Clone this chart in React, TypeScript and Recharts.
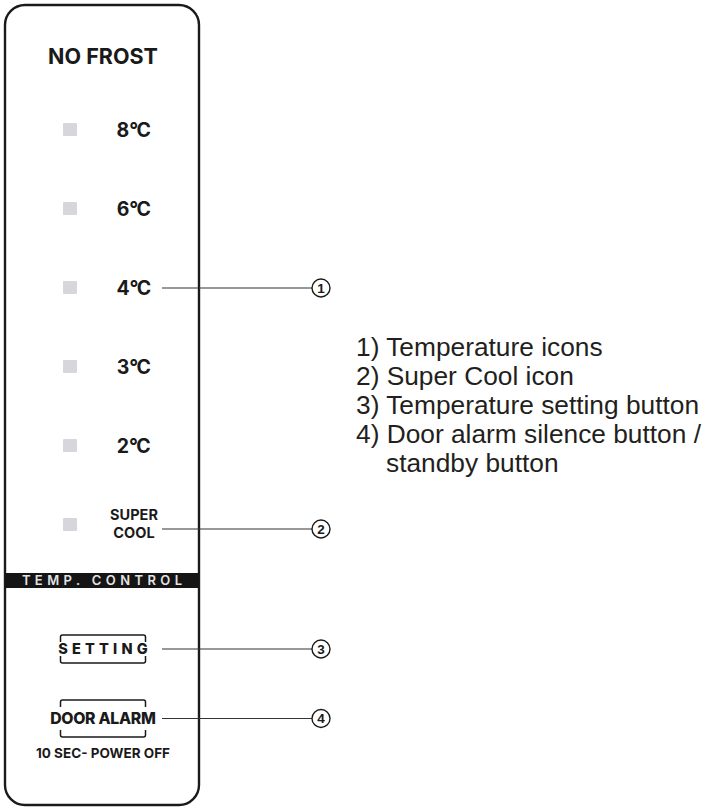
import { ScatterChart, Scatter, XAxis, YAxis, ReferenceArea, ReferenceLine } from 'recharts';

const W = 711;
const H = 807;

// panel texts, top to bottom
const panelTitle = 'NO FROST';
const tempLabels = ['8°C', '6°C', '4°C', '3°C', '2°C'];
const superCoolLines = ['SUPER', 'COOL'];
const bandLabel = 'TEMP. CONTROL';
const buttonLabels = ['SETTING', 'DOOR ALARM'];
const buttonNotes = ['', '10 SEC- POWER OFF'];

// callouts and the legend beside the panel
const calloutNumbers = ['1', '2', '3', '4'];
const legendLines = [
  '1) Temperature icons',
  '2) Super Cool icon',
  '3) Temperature setting button',
  '4) Door alarm silence button /',
  'standby button',
];

// layout (axis units = pixels)
const PANEL = { x1: 5, x2: 199, y1: 5, y2: 805 };
const BAND = { y1: 573, y2: 588 };
const TITLE_Y = 56;
const FIRST_ROW = 130;
const ROW_STEP = 79;
const ICON_X = 70;
const LABEL_X = 133;
const BUTTON_X = 103;
const BUTTON_Y = [649, 718.5];
const BUTTON_H = [28, 37];
const NOTE_Y = 753;
const LINE_START = 162;
const CALLOUT_X = 321;
const CALLOUT_R = 9;
const LEGEND_X = 356;
const LEGEND_FS = 26.3;
const LEGEND_INDENT = 30;
const LEGEND_Y0 = 347;
const LEGEND_STEP = 29;

const PANEL_FONT = 'Inter, "Noto Sans", sans-serif';
const LEGEND_FONT = '"Liberation Sans", Arial, sans-serif';
const INK = '#1a1a1a';

const rowY = (i: number) => FIRST_ROW + i * ROW_STEP;

const titleData = [{ x: BUTTON_X, y: TITLE_Y, label: panelTitle }];
const iconData = [...tempLabels, 'SUPER COOL'].map((label, i) => ({ x: ICON_X, y: rowY(i), label }));
const tempData = tempLabels.map((label, i) => ({ x: LABEL_X, y: rowY(i), label }));
const superCoolData = [{ x: LABEL_X + 1, y: rowY(5) - 1.5, lines: superCoolLines }];
const buttonData = buttonLabels.map((label, i) => ({ x: BUTTON_X, y: BUTTON_Y[i], h: BUTTON_H[i], label }));
const noteData = buttonNotes.filter(Boolean).map((label) => ({ x: BUTTON_X, y: NOTE_Y, label }));
const calloutY = [rowY(2), rowY(5) + 4, BUTTON_Y[0], BUTTON_Y[1]];
const calloutData = calloutNumbers.map((n, i) => ({ x: CALLOUT_X, y: calloutY[i], n }));
const legendData = legendLines.map((text, i) => ({
  x: i === legendLines.length - 1 ? LEGEND_X + LEGEND_INDENT : LEGEND_X,
  y: LEGEND_Y0 + i * LEGEND_STEP,
  text,
}));

function PanelShape(p: any) {
  return <rect x={p.x} y={p.y} width={p.width} height={p.height} rx={20} ry={20} fill="#fff" stroke={INK} strokeWidth={2.4} />;
}

function BandShape(p: any) {
  return (
    <g>
      <rect x={p.x} y={p.y} width={p.width} height={p.height} fill="#151515" />
      <text
        x={p.x + p.width / 2 + 2.2}
        y={p.y + p.height / 2}
        dy="0.36em"
        textAnchor="middle"
        fontFamily={PANEL_FONT}
        fontSize={13}
        fontWeight={600}
        letterSpacing={4.4}
        fill="#e4e4e4"
      >
        {bandLabel}
      </text>
    </g>
  );
}

function TitleShape(p: any) {
  return (
    <text x={p.cx} y={p.cy} dy="0.36em" textAnchor="middle" fontFamily={PANEL_FONT} fontWeight={700} fontSize={21.5} fill={INK}>
      {p.payload.label}
    </text>
  );
}

function IconShape(p: any) {
  return <rect x={p.cx - 7} y={p.cy - 7} width={14} height={13} rx={1} fill="#d6d6dc" />;
}

function TempShape(p: any) {
  const num = p.payload.label.slice(0, 1);
  const unit = p.payload.label.slice(1);
  return (
    <text x={p.cx} y={p.cy} dy="0.36em" textAnchor="middle" fontFamily={PANEL_FONT} fontWeight={700} fontSize={19.5} fill={INK}>
      {num}
      <tspan letterSpacing={-1.5}>{unit}</tspan>
    </text>
  );
}

function SuperCoolShape(p: any) {
  return (
    <g>
      {p.payload.lines.map((line: string, i: number) => (
        <text
          key={line}
          x={p.cx}
          y={p.cy + (i === 0 ? -9 : 9)}
          dy="0.36em"
          textAnchor="middle"
          fontFamily={PANEL_FONT}
          fontWeight={700}
          fontSize={14.5}
          fill={INK}
        >
          {line}
        </text>
      ))}
    </g>
  );
}

function ButtonShape(p: any) {
  const hw = 42.5;
  const hh = p.payload.h / 2;
  const l = p.cx - hw;
  const r = p.cx + hw;
  const t = p.cy - hh;
  const b = p.cy + hh;
  const leg = 7;
  const c = 2;
  const isSetting = p.payload.label === 'SETTING';
  const spacing = isSetting ? 4.2 : -0.3;
  return (
    <g>
      <path
        d={`M${l},${t + leg} L${l},${t + c} Q${l},${t} ${l + c},${t} L${r - c},${t} Q${r},${t} ${r},${t + c} L${r},${t + leg}`}
        fill="none"
        stroke={INK}
        strokeWidth={1.5}
      />
      <path
        d={`M${l},${b - leg} L${l},${b - c} Q${l},${b} ${l + c},${b} L${r - c},${b} Q${r},${b} ${r},${b - c} L${r},${b - leg}`}
        fill="none"
        stroke={INK}
        strokeWidth={1.5}
      />
      <text
        x={p.cx + spacing / 2}
        y={p.cy}
        dy="0.36em"
        textAnchor="middle"
        fontFamily={PANEL_FONT}
        fontWeight={800}
        fontSize={isSetting ? 14.5 : 15.8}
        letterSpacing={spacing}
        fill={INK}
      >
        {p.payload.label}
      </text>
    </g>
  );
}

function NoteShape(p: any) {
  return (
    <text x={p.cx} y={p.cy} dy="0.36em" textAnchor="middle" fontFamily={PANEL_FONT} fontWeight={700} fontSize={13.5} fill={INK}>
      {p.payload.label}
    </text>
  );
}

function CalloutShape(p: any) {
  return (
    <g>
      <circle cx={p.cx} cy={p.cy} r={CALLOUT_R} fill="#fff" stroke={INK} strokeWidth={1.4} />
      <text x={p.cx} y={p.cy} dy="0.36em" textAnchor="middle" fontFamily={LEGEND_FONT} fontWeight={700} fontSize={13.5} fill={INK}>
        {p.payload.n}
      </text>
    </g>
  );
}

function LegendShape(p: any) {
  return (
    <text x={p.cx} y={p.cy} dy="0.36em" fontFamily={LEGEND_FONT} fontSize={LEGEND_FS} fill="#231f20">
      {p.payload.text}
    </text>
  );
}

export default function App() {
  return (
    <div style={{ position: 'absolute', left: 0, top: 0, width: W, height: H, background: '#fff' }}>
      <ScatterChart width={W} height={H} margin={{ top: 0, right: 0, bottom: 0, left: 0 }}>
        <XAxis type="number" dataKey="x" domain={[0, W]} hide />
        <YAxis type="number" dataKey="y" domain={[0, H]} reversed hide />
        <ReferenceArea x1={PANEL.x1} x2={PANEL.x2} y1={PANEL.y1} y2={PANEL.y2} shape={PanelShape} />
        <ReferenceArea x1={PANEL.x1} x2={PANEL.x2} y1={BAND.y1} y2={BAND.y2} shape={BandShape} />
        {calloutData.map((d) => (
          <ReferenceLine
            key={d.n}
            segment={[{ x: LINE_START, y: d.y }, { x: CALLOUT_X - CALLOUT_R, y: d.y }]}
            stroke="#333"
            strokeWidth={1.2}
          />
        ))}
        <Scatter data={titleData} shape={TitleShape} isAnimationActive={false} />
        <Scatter data={iconData} shape={IconShape} isAnimationActive={false} />
        <Scatter data={tempData} shape={TempShape} isAnimationActive={false} />
        <Scatter data={superCoolData} shape={SuperCoolShape} isAnimationActive={false} />
        <Scatter data={buttonData} shape={ButtonShape} isAnimationActive={false} />
        <Scatter data={noteData} shape={NoteShape} isAnimationActive={false} />
        <Scatter data={calloutData} shape={CalloutShape} isAnimationActive={false} />
        <Scatter data={legendData} shape={LegendShape} isAnimationActive={false} />
      </ScatterChart>
    </div>
  );
}
